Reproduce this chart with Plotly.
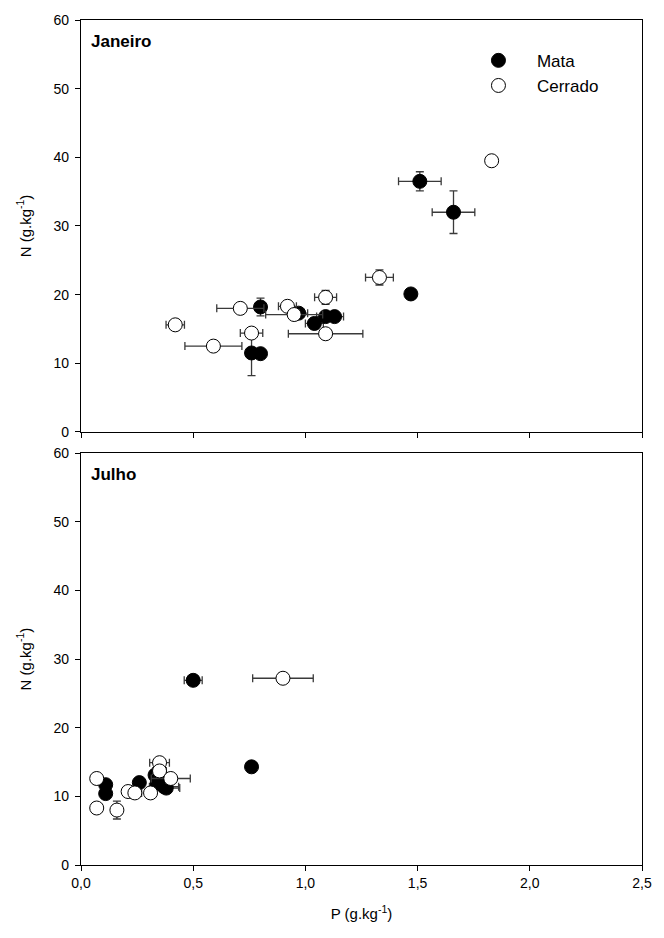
import plotly.graph_objects as go
from plotly.subplots import make_subplots

# ---- Janeiro (January) ----
jan_mata_p = [1.51, 1.66, 1.47, 0.80, 0.97, 1.04, 1.09, 1.13, 0.76, 0.80]
jan_mata_p_err = [0.095, 0.095, 0.02, 0.02, 0.04, 0.04, 0.04, 0.04, 0.0, 0.0]
jan_mata_n = [36.5, 32.0, 20.1, 18.2, 17.3, 15.8, 16.8, 16.8, 11.5, 11.4]
jan_mata_n_err = [1.4, 3.1, 0.4, 1.3, 0.6, 0.8, 0.7, 0.6, 3.3, 0.5]

jan_cerr_p = [1.83, 1.33, 1.09, 0.71, 0.92, 0.95, 1.09, 0.42, 0.76, 0.59]
jan_cerr_p_err = [0.0, 0.062, 0.049, 0.105, 0.04, 0.127, 0.166, 0.041, 0.05, 0.127]
jan_cerr_n = [39.5, 22.5, 19.6, 18.0, 18.3, 17.1, 14.3, 15.6, 14.4, 12.5]
jan_cerr_n_err = [0.5, 1.1, 1.0, 0.0, 0.3, 0.3, 0.3, 0.3, 0.3, 0.0]

# ---- Julho (July) ----
jul_mata_p = [0.50, 0.76, 0.11, 0.11, 0.26, 0.33, 0.34, 0.37, 0.38, 0.36]
jul_mata_p_err = [0.04, 0.02, 0.01, 0.01, 0.02, 0.02, 0.03, 0.065, 0.06, 0.04]
jul_mata_n = [26.9, 14.3, 11.7, 10.4, 12.0, 13.1, 11.9, 11.4, 11.2, 12.4]
jul_mata_n_err = [0.4, 0.5, 0.3, 0.3, 0.4, 0.4, 0.4, 0.3, 0.3, 0.4]

jul_cerr_p = [0.90, 0.07, 0.07, 0.16, 0.21, 0.24, 0.31, 0.35, 0.35, 0.40]
jul_cerr_p_err = [0.135, 0.0, 0.0, 0.0, 0.02, 0.03, 0.0, 0.044, 0.03, 0.087]
jul_cerr_n = [27.2, 12.6, 8.3, 8.0, 10.7, 10.5, 10.5, 14.9, 13.7, 12.6]
jul_cerr_n_err = [0.0, 0.0, 0.0, 1.3, 0.5, 0.4, 0.0, 0.6, 0.5, 0.0]

x_ticks = [0.0, 0.5, 1.0, 1.5, 2.0, 2.5]
x_tick_labels = ["0,0", "0,5", "1,0", "1,5", "2,0", "2,5"]
y_ticks = [0, 10, 20, 30, 40, 50, 60]

FONT = "Liberation Sans, Arial, sans-serif"
ERR_COLOR = "#3a3a3a"

fig = make_subplots(rows=2, cols=1, shared_xaxes=False, vertical_spacing=0.025)


def add_series(row, px, px_err, ny, ny_err, filled, name, show):
    fig.add_trace(
        go.Scatter(
            x=px, y=ny, mode="markers", name=name,
            showlegend=show,
            marker=dict(
                size=14, symbol="circle",
                color="black" if filled else "white",
                line=dict(color="black", width=1),
            ),
            error_x=dict(type="data", array=px_err, color=ERR_COLOR,
                         thickness=1.3, width=4),
            error_y=dict(type="data", array=ny_err, color=ERR_COLOR,
                         thickness=1.3, width=4),
        ),
        row=row, col=1,
    )


add_series(1, jan_mata_p, jan_mata_p_err, jan_mata_n, jan_mata_n_err, True, "Mata", True)
add_series(1, jan_cerr_p, jan_cerr_p_err, jan_cerr_n, jan_cerr_n_err, False, "Cerrado", True)
add_series(2, jul_mata_p, jul_mata_p_err, jul_mata_n, jul_mata_n_err, True, "Mata", False)
add_series(2, jul_cerr_p, jul_cerr_p_err, jul_cerr_n, jul_cerr_n_err, False, "Cerrado", False)

axis_common = dict(
    showline=True, linecolor="black", linewidth=1.2, mirror=True,
    ticks="outside", ticklen=5, tickwidth=1, tickcolor="black",
    showgrid=False, zeroline=False,
    tickfont=dict(family=FONT, size=14, color="black"),
)

for r in (1, 2):
    fig.update_xaxes(range=[0, 2.5], tickvals=x_ticks, ticktext=x_tick_labels,
                     showticklabels=(r == 2), row=r, col=1, **axis_common)
    fig.update_yaxes(range=[0, 60], tickvals=y_ticks, row=r, col=1,
                     ticklabelstandoff=3,
                     title=dict(text="N (g.kg<sup>-1</sup>)", standoff=18,
                                font=dict(family=FONT, size=15, color="black")),
                     **axis_common)

fig.update_xaxes(title=dict(text="P (g.kg<sup>-1</sup>)", standoff=18,
                            font=dict(family=FONT, size=15, color="black")),
                 row=2, col=1)

fig.add_annotation(text="<b>Janeiro</b>", xref="x domain", yref="y domain",
                   x=0.015, y=0.975, xanchor="left", yanchor="top", showarrow=False,
                   font=dict(family=FONT, size=17, color="black"), row=1, col=1)
fig.add_annotation(text="<b>Julho</b>", xref="x domain", yref="y domain",
                   x=0.015, y=0.975, xanchor="left", yanchor="top", showarrow=False,
                   font=dict(family=FONT, size=17, color="black"), row=2, col=1)

fig.update_layout(
    width=664, height=938,
    margin=dict(l=81, r=13, t=20, b=73),
    paper_bgcolor="white", plot_bgcolor="white",
    font=dict(family=FONT, color="black"),
    legend=dict(x=0.6755, y=0.973, xanchor="left", yanchor="top",
                bgcolor="rgba(0,0,0,0)", itemwidth=67, tracegroupgap=0,
                font=dict(family=FONT, size=17, color="black")),
)

fig.write_html("out.html")
